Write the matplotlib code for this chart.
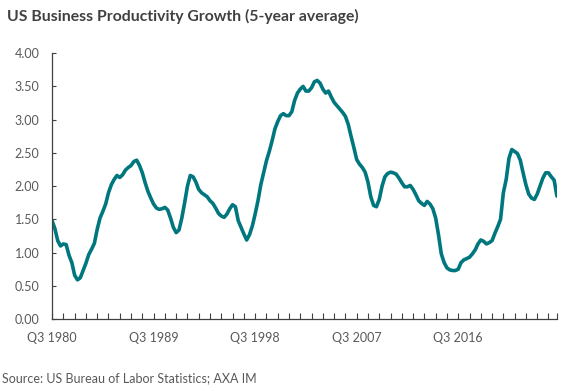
import matplotlib
matplotlib.use("Agg")
import matplotlib.pyplot as plt
from matplotlib.ticker import FixedLocator, FormatStrFormatter

# Quarterly 5-year average productivity growth, Q3 1980 .. Q2 2025
values = [
    1.48, 1.36, 1.18, 1.10, 1.13, 1.12, 0.96, 0.85, 0.66, 0.59,
    0.62, 0.73, 0.84, 0.97, 1.05, 1.14, 1.35, 1.52, 1.62, 1.73,
    1.90, 2.02, 2.10, 2.16, 2.13, 2.17, 2.24, 2.28, 2.31, 2.37,
    2.39, 2.31, 2.20, 2.05, 1.92, 1.82, 1.73, 1.67, 1.65, 1.66,
    1.68, 1.64, 1.52, 1.38, 1.30, 1.34, 1.52, 1.75, 2.00, 2.16,
    2.14, 2.06, 1.95, 1.90, 1.87, 1.84, 1.78, 1.74, 1.67, 1.59,
    1.55, 1.53, 1.58, 1.66, 1.72, 1.69, 1.48, 1.38, 1.28, 1.19,
    1.27, 1.40, 1.58, 1.78, 2.02, 2.20, 2.38, 2.52, 2.68, 2.86,
    2.97, 3.06, 3.09, 3.06, 3.06, 3.12, 3.29, 3.40, 3.46, 3.50,
    3.43, 3.43, 3.48, 3.57, 3.59, 3.55, 3.46, 3.40, 3.43, 3.34,
    3.26, 3.21, 3.16, 3.11, 3.05, 2.93, 2.75, 2.58, 2.40, 2.33,
    2.28, 2.21, 2.06, 1.84, 1.71, 1.69, 1.80, 2.00, 2.14, 2.19,
    2.21, 2.20, 2.18, 2.12, 2.05, 1.99, 1.99, 2.01, 1.95, 1.87,
    1.78, 1.74, 1.71, 1.77, 1.73, 1.66, 1.52, 1.27, 0.98, 0.85,
    0.77, 0.74, 0.73, 0.73, 0.75, 0.85, 0.89, 0.91, 0.93, 0.98,
    1.04, 1.13, 1.19, 1.17, 1.13, 1.15, 1.18, 1.29, 1.39, 1.50,
    1.90, 2.10, 2.42, 2.55, 2.52, 2.49, 2.39, 2.20, 2.02, 1.88,
    1.82, 1.80, 1.88, 2.00, 2.12, 2.20, 2.20, 2.14, 2.09, 1.85,
]
label_every = 36  # quarters
x_labels = ["Q3 1980", "Q3 1989", "Q3 1998", "Q3 2007", "Q3 2016"]
y_ticks = [0.0, 0.5, 1.0, 1.5, 2.0, 2.5, 3.0, 3.5, 4.0]

title = "US Business Productivity Growth (5-year average)"
source = "Source: US Bureau of Labor Statistics; AXA IM"

plt.rcParams['font.family'] = ['Lato', 'DejaVu Sans']
fig = plt.figure(figsize=(5.66, 3.91), dpi=100)
ax = fig.add_axes([0.092, 0.184, 0.892, 0.680])

n = len(values)
x = list(range(n))
ax.plot(x, values, color='#00777F', linewidth=2.6, solid_capstyle='round',
        solid_joinstyle='round')

ax.set_xlim(0, n - 1)
ax.set_ylim(0, 4.0)

ax.set_yticks(y_ticks)
ax.yaxis.set_major_formatter(FormatStrFormatter('%.2f'))
ax.tick_params(axis='y', direction='in', length=3, width=0.8, color='#404040',
               labelsize=9, labelcolor='#595959', pad=9)

major = [i * label_every for i in range(len(x_labels))]
ax.set_xticks(major)
ax.set_xticklabels(x_labels)
minor = [i for i in range(0, n, 4)] + [n - 1]
ax.xaxis.set_minor_locator(FixedLocator(minor))
ax.tick_params(axis='x', which='both', direction='in', length=4, width=0.8,
               color='#404040', labelsize=9, labelcolor='#595959', pad=9)

for s in ['top', 'right']:
    ax.spines[s].set_visible(False)
for s in ['left', 'bottom']:
    ax.spines[s].set_color('#404040')
    ax.spines[s].set_linewidth(0.9)

fig.text(0.012, 0.958, title, fontsize=11.3, fontweight='bold', color='#404040',
         va='center', ha='left')
fig.text(0.004, 0.033, source, fontsize=9, color='#595959', va='center', ha='left')

fig.savefig('out.png', dpi=100)
